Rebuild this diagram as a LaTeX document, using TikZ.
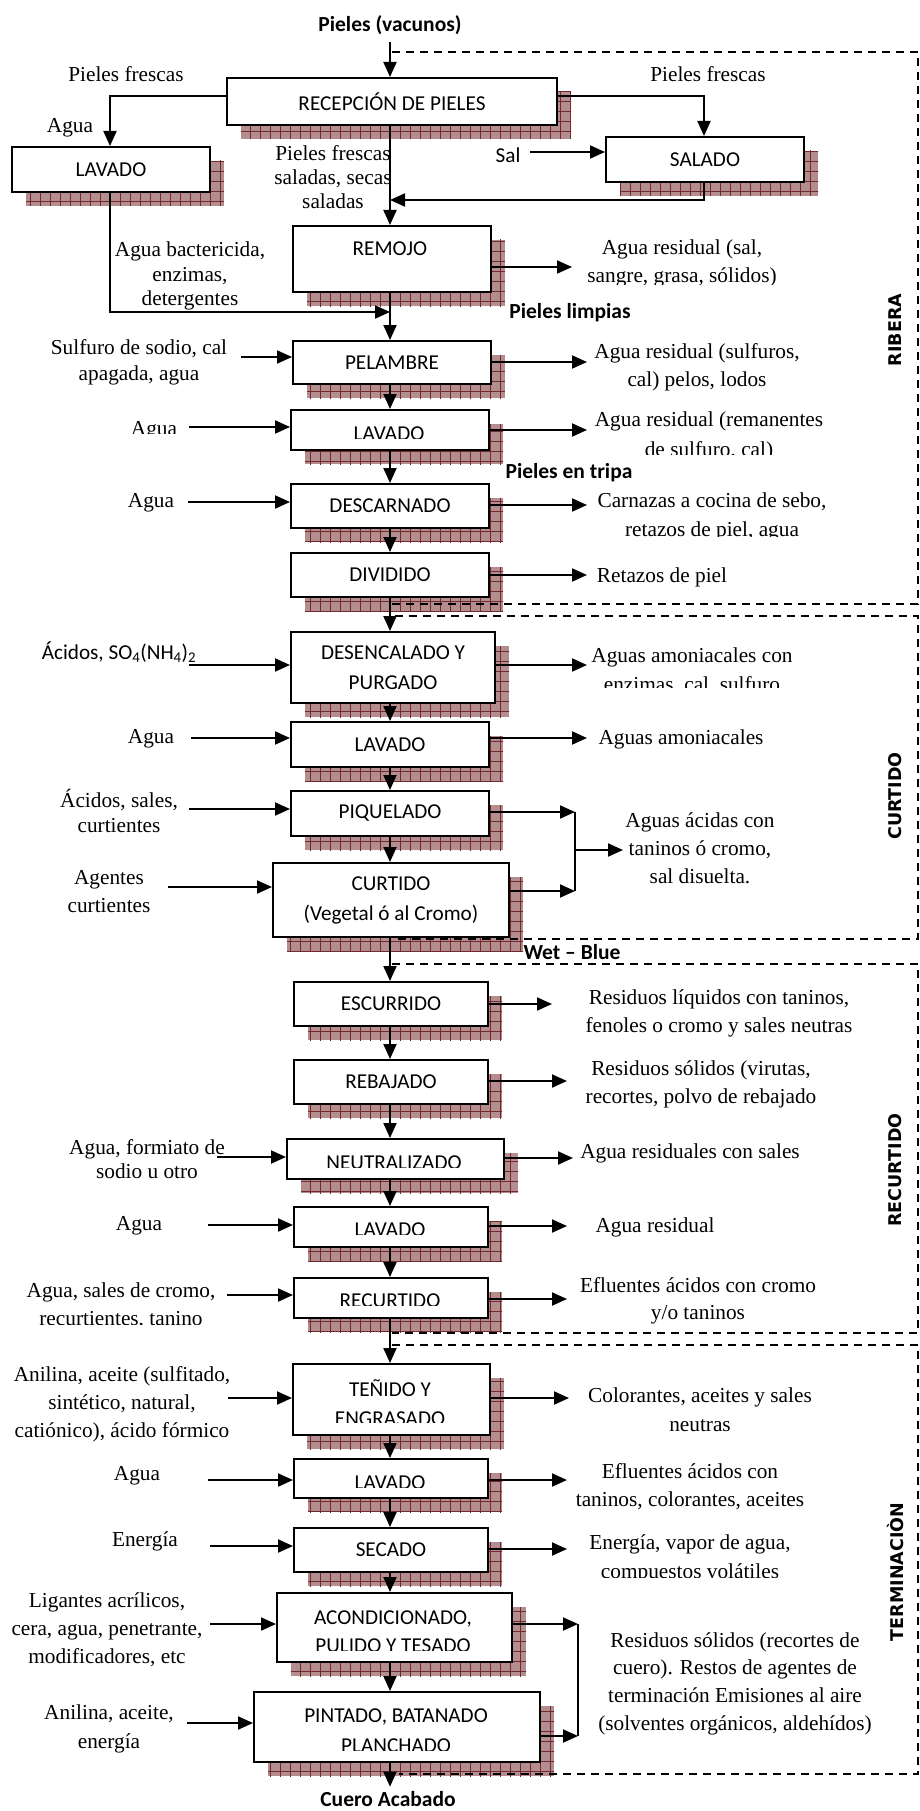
\documentclass[tikz,border=0pt]{standalone}
\usepackage{fontspec}
\setmainfont{Liberation Serif}
\newfontfamily\calib{Carlito}
\newfontfamily\dvsans{DejaVu Sans}
\usetikzlibrary{arrows.meta,patterns.meta}
\definecolor{shfill}{RGB}{180,142,142}
\definecolor{shgrid}{RGB}{115,40,45}
\tikzset{
  proc/.style={draw, line width=2pt, fill=white, inner sep=0pt, font=\calib\fontsize{21.2}{30}\selectfont, align=center},
  lbl/.style={font=\fontsize{21.3}{28}\selectfont, align=center, inner sep=0pt},
  blbl/.style={font=\calib\fontsize{21.2}{30}\selectfont, align=center, inner sep=0pt},
  boldlbl/.style={font=\calib\bfseries\fontsize{21.5}{26}\selectfont, inner sep=0pt},
  sect/.style={font=\dvsans\bfseries\fontsize{17.5}{20}\selectfont, rotate=90, inner sep=0pt},
  arr/.style={line width=2pt, -{Triangle[length=15pt,width=13pt]}},
  ln/.style={line width=2pt},
  sectframe/.style={line width=1.8pt, dash pattern=on 8pt off 6pt},
}
\newcommand\shadowrect[4]{%
  \fill[shfill] (#1+15,#2+15) rectangle (#3+15,#4+15);
  \path[pattern={Lines[distance=10pt,angle=0,line width=0.9pt]},pattern color=shgrid] (#1+15,#2+15) rectangle (#3+15,#4+15);
  \path[pattern={Lines[distance=10pt,angle=90,line width=0.9pt]},pattern color=shgrid] (#1+15,#2+15) rectangle (#3+15,#4+15);
}
\newcommand\pbox[6]{%
  \shadowrect{#2}{#3}{#4}{#5}
  \node[proc, anchor=north west, minimum width={(#4-#2)*1pt}, minimum height={(#5-#3)*1pt}] (#1) at (#2,#3) {#6};
}
\newcommand\clipnode[2]{\begin{scope}\clip (0,0) rectangle (920,#1); #2 \end{scope}}

\begin{document}
\begin{tikzpicture}[x=1pt,y=-1pt]
\useasboundingbox (0,0) rectangle (920,1811);

% ---------- boxes ----------
\pbox{rec}{226}{77}{556}{124}{RECEPCIÓN DE PIELES}
\pbox{lav1}{11}{146}{209}{191}{LAVADO}
\pbox{sal}{605}{136}{803}{181}{SALADO}
\pbox{rem}{292}{225}{490}{291}{}
\pbox{pel}{292}{340}{490}{383}{PELAMBRE}
\pbox{lav2}{290}{409}{488}{449}{}
\pbox{des}{290}{483}{488}{527}{DESCARNADO}
\pbox{div}{290}{552}{488}{596}{DIVIDIDO}
\pbox{dep}{290}{631}{494}{702}{DESENCALADO Y\\PURGADO}
\pbox{lav3}{290}{721}{488}{766}{LAVADO}
\pbox{piq}{290}{790}{488}{835}{PIQUELADO}
\pbox{cur}{272}{862}{508}{936}{CURTIDO\\(Vegetal ó al Cromo)}
\pbox{esc}{293}{981}{487}{1025}{ESCURRIDO}
\pbox{reb}{293}{1059}{487}{1103}{REBAJADO}
\pbox{neu}{286}{1138}{503}{1178}{}
\pbox{lav4}{293}{1206}{487}{1246}{}
\pbox{rcu}{293}{1277}{487}{1317}{}
\pbox{ten}{292}{1363}{489}{1434}{}
\pbox{lav5}{293}{1458}{487}{1497}{}
\pbox{sec}{293}{1527}{487}{1571}{SECADO}
\pbox{aco}{276}{1592}{511}{1661}{}
\pbox{pin}{253}{1691}{539}{1761}{}

% box labels placed separately (off-centre or cut off)
\node[blbl] (t-rem) at (390,249) {REMOJO};
\clipnode{438}{\node[blbl] (t-lav2) at (389,433.5) {LAVADO};}
\clipnode{1167}{\node[blbl] (t-neu) at (394,1162.5) {NEUTRALIZADO};}
\clipnode{1234.5}{\node[blbl] (t-lav4) at (390,1230) {LAVADO};}
\clipnode{1305}{\node[blbl] (t-rcu) at (390,1300.5) {RECURTIDO};}
\clipnode{1422}{\node[blbl, font=\calib\fontsize{21.2}{29}\selectfont] (t-ten) at (390,1403) {TEÑIDO Y\\ENGRASADO};}
\clipnode{1487}{\node[blbl] (t-lav5) at (390,1482.5) {LAVADO};}
\clipnode{1650}{\node[blbl, font=\calib\fontsize{21.2}{28.3}\selectfont] (t-aco) at (393,1631.5) {ACONDICIONADO,\\PULIDO Y TESADO};}
\clipnode{1750}{\node[blbl, font=\calib\fontsize{21.2}{30}\selectfont] (t-pin) at (396,1731) {PINTADO, BATANADO\\PLANCHADO};}

% ---------- texts ----------
\node[boldlbl] (vac) at (390,25) {Pieles (vacunos)};
\node[lbl] (pf1) at (126,74) {Pieles frescas};
\node[lbl] (pf2) at (708,74) {Pieles frescas};
\node[lbl] (ag0) at (70,128) {Agua};
\node[blbl] (saltx) at (508,155) {Sal};
\node[lbl, font=\fontsize{21.3}{24}\selectfont] (pfs) at (333,177) {Pieles frescas\\saladas, secas\\saladas};
\node[lbl, font=\fontsize{21.3}{24.5}\selectfont] (abe) at (190,276) {Agua bactericida,\\enzimas,\\detergentes};
\clipnode{284}{\node[lbl, font=\fontsize{21.3}{28.5}\selectfont] (o-rem) at (682,263.5) {Agua residual (sal,\\sangre, grasa, sólidos)};}
\node[boldlbl] (pl) at (570,313) {Pieles limpias};
\node[lbl, font=\fontsize{21.3}{26}\selectfont] (i-pel) at (139,362) {Sulfuro de sodio, cal\\apagada, agua};
\node[lbl] (o-pel) at (697,367) {Agua residual (sulfuros,\\cal) pelos, lodos};
\clipnode{433.5}{\node[lbl] (i-lav2) at (154,431) {Agua};}
\clipnode{454}{\node[lbl, font=\fontsize{21.3}{30}\selectfont] (o-lav2) at (709,436) {Agua residual (remanentes\\de sulfuro, cal)};}
\node[boldlbl] (pt) at (569,473) {Pieles en tripa};
\node[lbl] (i-des) at (151,503) {Agua};
\clipnode{536}{\node[lbl, font=\fontsize{21.3}{29}\selectfont] (o-des) at (712,517) {Carnazas a cocina de sebo,\\retazos de piel, agua};}
\node[lbl] (o-div) at (662,577) {Retazos de piel};
\node[blbl] (i-dep) at (119,652) {Ácidos, SO\textsubscript{4}(NH\textsubscript{4})\textsubscript{2}};
\clipnode{687.3}{\node[lbl, font=\fontsize{21.3}{29.5}\selectfont] (o-dep) at (692,671) {Aguas amoniacales con\\enzimas, cal, sulfuro};}
\node[lbl] (i-lav3) at (151,739) {Agua};
\node[lbl] (o-lav3) at (681,739) {Aguas amoniacales};
\node[lbl, font=\fontsize{21.3}{25}\selectfont] (i-piq) at (119,810.5) {Ácidos, sales,\\curtientes};
\node[lbl] (i-cur) at (109,892) {Agentes\\curtientes};
\node[lbl] (o-cur) at (700,848.5) {Aguas ácidas con\\taninos ó cromo,\\sal disuelta.};
\node[boldlbl] (wb) at (572,952) {Wet – Blue};
\node[lbl] (o-esc) at (719,1013) {Residuos líquidos con taninos,\\fenoles o cromo y sales neutras};
\node[lbl] (o-reb) at (701,1084) {Residuos sólidos (virutas,\\recortes, polvo de rebajado};
\node[lbl, font=\fontsize{21.3}{24}\selectfont] (i-neu) at (147,1159) {Agua, formiato de\\sodio u otro};
\node[lbl] (o-neu) at (690,1153) {Agua residuales con sales};
\node[lbl] (i-lav4) at (139,1226) {Agua};
\node[lbl] (o-lav4) at (655,1227) {Agua residual};
\clipnode{1324}{\node[lbl, font=\fontsize{21.3}{28}\selectfont] (i-rcu) at (121,1306) {Agua, sales de cromo,\\recurtientes, tanino};}
\node[lbl, font=\fontsize{21.3}{27}\selectfont] (o-rcu) at (698,1300.5) {Efluentes ácidos con cromo\\y/o taninos};
\node[lbl] (i-ten) at (122,1404.5) {Anilina, aceite (sulfitado,\\sintético, natural,\\catiónico), ácido fórmico};
\node[lbl, font=\fontsize{21.3}{29}\selectfont] (o-ten) at (700,1409.5) {Colorantes, aceites y sales\\neutras};
\node[lbl] (i-lav5) at (137,1476) {Agua};
\node[lbl] (o-lav5) at (690,1487) {Efluentes ácidos con\\taninos, colorantes, aceites};
\node[lbl] (i-sec) at (145,1541) {Energía};
\clipnode{1577}{\node[lbl, font=\fontsize{21.3}{29.5}\selectfont] (o-sec) at (690,1559) {Energía, vapor de agua,\\compuestos volátiles};}
\node[lbl] (i-aco) at (107,1629.5) {Ligantes acrílicos,\\cera, agua, penetrante,\\modificadores, etc};
\node[lbl, font=\fontsize{21.3}{29}\selectfont] (i-pin) at (109,1728.5) {Anilina, aceite,\\energía};
\node[lbl, font=\fontsize{21.3}{27.7}\selectfont] (o-aco) at (735,1683.5) {Residuos sólidos (recortes de\\cuero). Restos de agentes de\\terminación Emisiones al aire\\(solventes orgánicos, aldehídos)};
\node[boldlbl] (cue) at (388,1799.5) {Cuero Acabado};

% section labels
\node[sect] (s1) at (895,330) {RIBERA};
\node[sect] (s2) at (895,796) {CURTIDO};
\node[sect] (s3) at (895,1170) {RECURTIDO};
\node[sect] (s4) at (895,1572) {TERMINACIÒN};

% ---------- connectors ----------
\coordinate (fx) at (390,0);
\coordinate (lx) at (110,0);
\coordinate (sx) at (704,0);

\draw[arr] ([yshift=-7pt]vac.south -| fx) -- (rec.north -| fx);
\draw[arr] (rec.west |- 0,96) -| (lav1.north -| lx);
\draw[arr] (rec.east |- 0,96) -| (sal.north -| sx);
\coordinate (salin) at (530,152);
\draw[arr] (salin) -- (salin -| sal.west);
\draw[arr] (sal.south -| sx) |- (fx |- 0,200);
\coordinate (j1) at (390,312);
\draw[arr] (lav1.south -| lx) |- (j1);

\foreach \a/\b in {rec/rem,rem/pel,pel/lav2,lav2/des,des/div,div/dep,dep/lav3,lav3/piq,piq/cur,cur/esc,esc/reb,reb/neu,neu/lav4,lav4/rcu,rcu/ten,ten/lav5,lav5/sec,sec/aco,aco/pin}
  \draw[arr] (\a.south -| fx) -- (\b.north -| fx);
\draw[arr] (pin.south -| fx) -- ([yshift=5pt]cue.north -| fx);

\foreach \b/\x/\y in {pel/241/357,lav2/189/427,des/188/502,dep/189/665,lav3/191/738,piq/189/809,cur/168/887,neu/217/1157,lav4/208/1225,rcu/227/1295,ten/228/1398,lav5/208/1480,sec/210/1546,aco/210/1624,pin/187/1723}
  {\coordinate (in-\b) at (\x,\y); \draw[arr] (in-\b) -- (in-\b -| \b.west);}

\foreach \b/\x/\y in {rem/572/267,pel/587/362,lav2/587/430,des/587/505,div/587/575,dep/587/665,lav3/587/738,esc/552/1004,reb/567/1081,neu/573/1158,lav4/567/1226,rcu/567/1299,ten/569/1398,lav5/567/1480,sec/567/1549}
  {\coordinate (out-\b) at (\x,\y); \draw[arr] (out-\b -| \b.east) -- (out-\b);}

% merged outputs CURTIDO section
\coordinate (m1a) at (575,812);
\coordinate (m1b) at (575,891);
\coordinate (m1c) at (575,850);
\coordinate (m1o) at (623,850);
\draw[arr] (m1a -| piq.east) -- (m1a);
\draw[arr] (m1b -| cur.east) -- (m1b);
\draw[ln] (m1a) -- (m1b);
\draw[arr] (m1c) -- (m1o);

% merged outputs TERMINACION
\coordinate (m2a) at (578,1624);
\coordinate (m2b) at (578,1736);
\draw[arr] (m2a -| aco.east) -- (m2a);
\draw[arr] (m2b -| pin.east) -- (m2b);
\draw[ln] (m2a) -- (m2b);

% ---------- section frames ----------
\draw[sectframe] (392,52) -| (918,604) -- (390,604);
\draw[sectframe] (395,616) -| (918,939) -- (396,939);
\draw[sectframe] (392,964) -| (918,1333) -- (392,1333);
\draw[sectframe] (392,1345) -| (918,1774) -- (399,1774);
\end{tikzpicture}
\end{document}
